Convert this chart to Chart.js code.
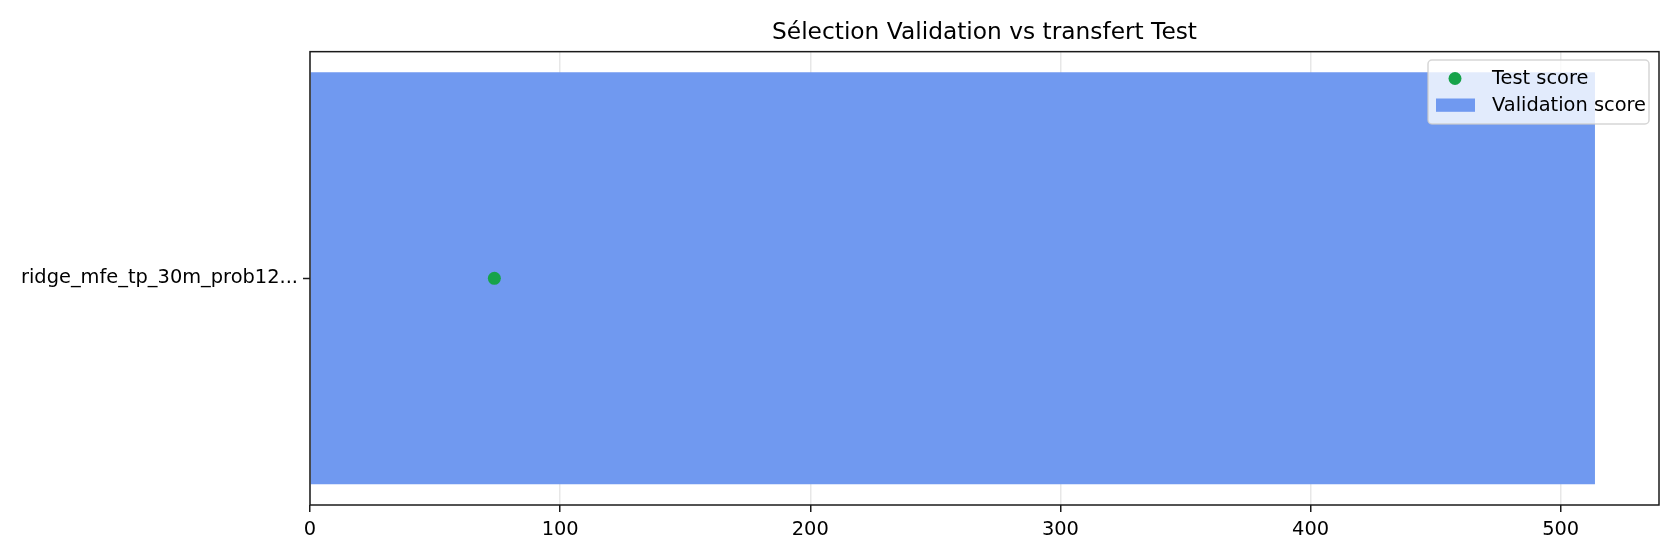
<!DOCTYPE html>
<html>
<head>
<meta charset="utf-8">
<script src="https://cdn.jsdelivr.net/npm/chart.js@4/dist/chart.umd.min.js"></script>
<style>
  html, body { margin: 0; padding: 0; background: #fff; }
  canvas { display: block; }
</style>
</head>
<body>
<canvas id="chart" width="1680" height="560"></canvas>
<script>
// ---- data ----
const categories = ['ridge_mfe_tp_30m_prob12...'];
const validationScores = [513.7];
const testScores = [73.7];
const xTickValues = [0, 100, 200, 300, 400, 500];
const xMin = 0;
const xMax = 539.3;

const FONT = "'DejaVu Sans', sans-serif";
const barColor = '#7099f0';
const dotColor = '#17a34a';

// frame round the plot + matplotlib-like legend (drawn on top of everything)
const frameAndLegend = {
  id: 'frameAndLegend',
  afterDraw(chart) {
    const { ctx, chartArea: a } = chart;
    ctx.save();
    ctx.strokeStyle = '#1a1a1a';
    ctx.lineWidth = 1.5;
    ctx.strokeRect(a.left, a.top, a.right - a.left, a.bottom - a.top);

    // legend box
    const bx = 1428, by = 60, bw = 221, bh = 64, r = 4;
    ctx.beginPath();
    ctx.roundRect(bx, by, bw, bh, r);
    ctx.fillStyle = 'rgba(255,255,255,0.8)';
    ctx.fill();
    ctx.strokeStyle = 'rgba(204,204,204,0.8)';
    ctx.lineWidth = 1.5;
    ctx.stroke();

    const sets = chart.data.datasets;
    ctx.font = '19.4px ' + FONT;
    ctx.fillStyle = '#000';
    ctx.textBaseline = 'middle';
    ctx.textAlign = 'left';

    // row 1: scatter marker
    ctx.beginPath();
    ctx.arc(1455, 78.5, 6.5, 0, Math.PI * 2);
    ctx.fillStyle = sets[0].backgroundColor;
    ctx.fill();
    ctx.fillStyle = '#000';
    ctx.fillText(sets[0].label, 1492, 79);

    // row 2: bar patch
    ctx.fillStyle = sets[1].backgroundColor;
    ctx.fillRect(1436, 98.5, 39, 13.3);
    ctx.fillStyle = '#000';
    ctx.fillText(sets[1].label, 1492, 106);
    ctx.restore();
  }
};

new Chart(document.getElementById('chart'), {
  type: 'bar',
  data: {
    labels: categories,
    datasets: [
      {
        type: 'line',
        label: 'Test score',
        data: testScores,
        indexAxis: 'y',
        showLine: false,
        backgroundColor: dotColor,
        borderColor: dotColor,
        pointBackgroundColor: dotColor,
        pointBorderColor: dotColor,
        pointBorderWidth: 0,
        pointRadius: 6.5,
        order: 1
      },
      {
        label: 'Validation score',
        data: validationScores,
        indexAxis: 'y',
        backgroundColor: barColor,
        borderWidth: 0,
        barPercentage: 0.909,
        categoryPercentage: 1.0,
        order: 2
      }
    ]
  },
  options: {
    indexAxis: 'y',
    responsive: false,
    animation: false,
    devicePixelRatio: 1,
    layout: { padding: { left: 0, right: 21, top: 0, bottom: 0 } },
    plugins: {
      legend: { display: false },
      tooltip: { enabled: false },
      title: {
        display: true,
        text: 'Sélection Validation vs transfert Test',
        fullSize: false,
        color: '#000',
        font: { family: FONT, size: 23.3, weight: 'normal', lineHeight: 1.2 },
        padding: { top: 18.5, bottom: 5.2 }
      }
    },
    scales: {
      x: {
        type: 'linear',
        min: xMin,
        max: xMax,
        z: 1,
        afterFit: (s) => { s.height = 55; },
        afterBuildTicks: (s) => { s.ticks = xTickValues.map(v => ({ value: v })); },
        border: { display: false },
        grid: {
          color: 'rgba(176,176,176,0.3)',
          lineWidth: 1.5,
          tickColor: '#1a1a1a',
          tickWidth: 1.5,
          tickLength: 7
        },
        ticks: {
          color: '#000',
          padding: 6,
          maxRotation: 0,
          font: { family: FONT, size: 19.4 }
        }
      },
      y: {
        type: 'category',
        offset: true,
        afterFit: (s) => { s.width = 310; },
        border: { display: false },
        grid: {
          offset: false,
          drawOnChartArea: false,
          tickColor: '#1a1a1a',
          tickWidth: 1.5,
          tickLength: 7
        },
        ticks: {
          color: '#000',
          padding: 5,
          font: { family: FONT, size: 19.4 }
        }
      }
    }
  },
  plugins: [frameAndLegend]
});
</script>
</body>
</html>
